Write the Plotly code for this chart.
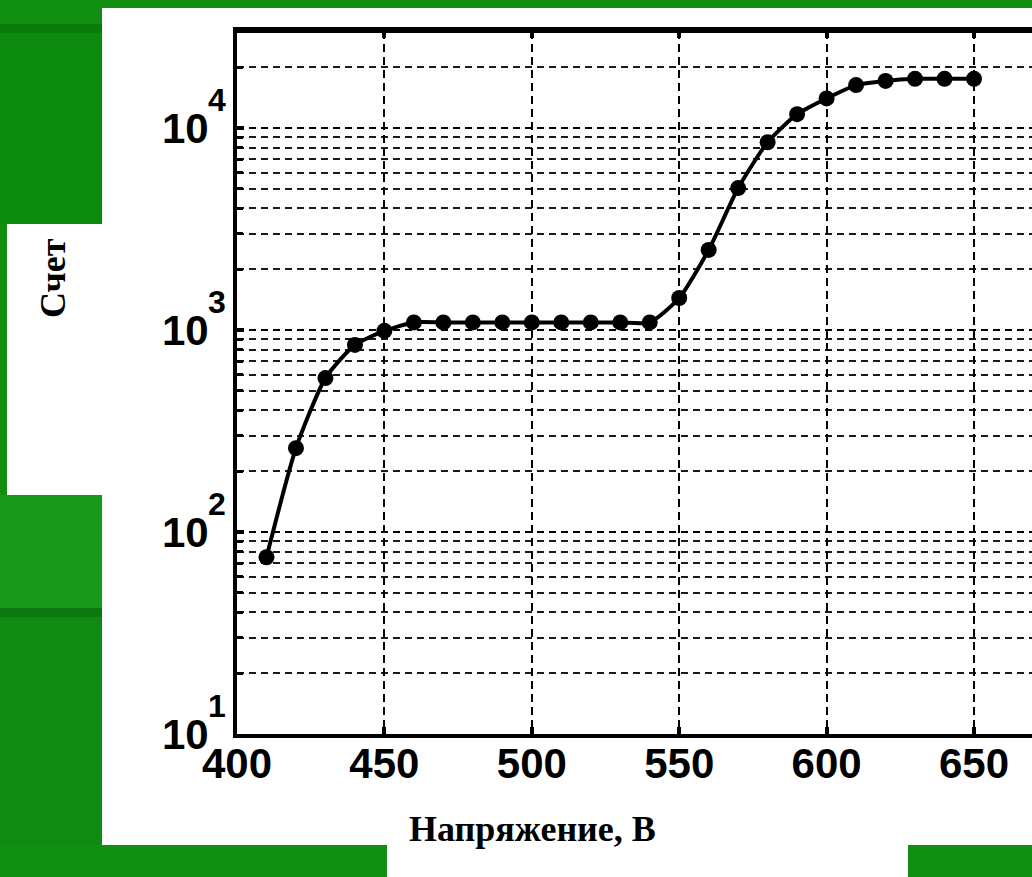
import math
import plotly.graph_objects as go

# ---- data ----
voltage = [410, 420, 430, 440, 450, 460, 470, 480, 490, 500, 510, 520, 530, 540,
           550, 560, 570, 580, 590, 600, 610, 620, 630, 640, 650]
counts = [75, 260, 578, 843, 990, 1090, 1090, 1090, 1090, 1090, 1090, 1090, 1090, 1090,
          1440, 2490, 5040, 8500, 11700, 14000, 16300, 17100, 17500, 17500, 17500]

x_ticks = [400, 450, 500, 550, 600, 650]
y_ticks = [10, 100, 1000, 10000]
y_ticktext = ["10", "10", "10", "10"]
y_exponents = ["1", "2", "3", "4"]
y_minor = [m * 10 ** k for k in range(1, 5) for m in range(2, 10) if m * 10 ** k < 30000]

x_title = "Напряжение, В"
y_title = "Счет"

# ---- layout geometry (pixels) ----
W, H = 1032, 877
L, R, T, B = 237, 1032, 31, 734
PW, PH = R - L, B - T


def px(x):
    return (x - L) / PW


def py(y):
    return (B - y) / PH


green = "rgb(16,143,17)"
fig = go.Figure()

fig.add_trace(go.Scatter(
    x=voltage, y=counts, mode="lines+markers",
    line=dict(color="black", width=4, shape="spline", smoothing=0.6),
    marker=dict(color="black", size=16, symbol="circle"),
    showlegend=False, cliponaxis=False,
))

shapes = []


def rect(x0, y0, x1, y1, color):
    shapes.append(dict(type="rect", xref="paper", yref="paper",
                       x0=px(x0), x1=px(x1), y0=py(y1), y1=py(y0),
                       fillcolor=color, line=dict(width=0), layer="below"))


# green variations on the left strip
rect(0, 33, 102, 224, "rgb(11,138,14)")
rect(0, 24, 102, 33, "rgb(8,122,11)")
rect(0, 495, 102, 608, "rgb(24,153,26)")
rect(0, 608, 102, 617, "rgb(12,120,14)")
rect(0, 617, 102, 845, "rgb(17,138,19)")
# white panels
rect(102, 8, 1040, 845, "white")
rect(7, 224, 102, 495, "white")
rect(387, 845, 908, 880, "white")
# top frame line
shapes.append(dict(type="line", xref="paper", yref="paper", x0=0, x1=1, y0=1, y1=1,
                   line=dict(color="black", width=4), layer="above"))

annotations = [
    dict(text=x_title, xref="paper", yref="paper", x=px(532), y=py(829),
         xanchor="center", yanchor="middle", showarrow=False,
         font=dict(family="Liberation Serif", size=36, color="black", weight="bold")),
    dict(text=y_title, xref="paper", yref="paper", x=px(53), y=py(278),
         xanchor="center", yanchor="middle", showarrow=False, textangle=-90,
         font=dict(family="Liberation Serif", size=36, color="black", weight="bold")),
]
# exponents of the decade labels
for v, e in zip(y_ticks, y_exponents):
    annotations.append(dict(text=e, xref="paper", yref="y", x=px(206), y=math.log10(v),
                            xanchor="left", yanchor="middle", yshift=28, showarrow=False,
                            font=dict(family="Liberation Sans", size=32, color="black",
                                      weight="bold")))

fig.update_layout(
    width=W, height=H,
    margin=dict(l=L, r=W - R, t=T, b=H - B, autoexpand=False),
    paper_bgcolor=green, plot_bgcolor="white",
    shapes=shapes,
    annotations=annotations,
)

fig.update_xaxes(
    range=[400, 400 + PW / 2.948], tickmode="array", tickvals=x_ticks,
    ticks="inside", ticklen=7, tickwidth=4, tickcolor="black",
    showline=True, linecolor="black", linewidth=4, mirror="allticks",
    showgrid=True, gridcolor="black", gridwidth=1.6, griddash="8px,5px",
    zeroline=False, automargin=False, ticklabelstandoff=-10,
    tickfont=dict(family="Liberation Sans", size=42, color="black", weight="bold"),
)

fig.update_yaxes(
    type="log", range=[1, 4.48], tickmode="array", tickvals=y_ticks, ticktext=y_ticktext,
    ticks="inside", ticklen=7, tickwidth=4, tickcolor="black",
    showline=True, linecolor="black", linewidth=4, mirror=False,
    showgrid=True, gridcolor="black", gridwidth=1.6, griddash="7px,5px",
    zeroline=False, automargin=False, ticklabelstandoff=16,
    minor=dict(tickmode="array", tickvals=y_minor, ticks="inside", ticklen=6,
               tickwidth=3, tickcolor="black", showgrid=True, gridcolor="#1a1a1a",
               gridwidth=1.6, griddash="7px,5px"),
    tickfont=dict(family="Liberation Sans", size=42, color="black", weight="bold"),
)

fig.write_html("out.html")
